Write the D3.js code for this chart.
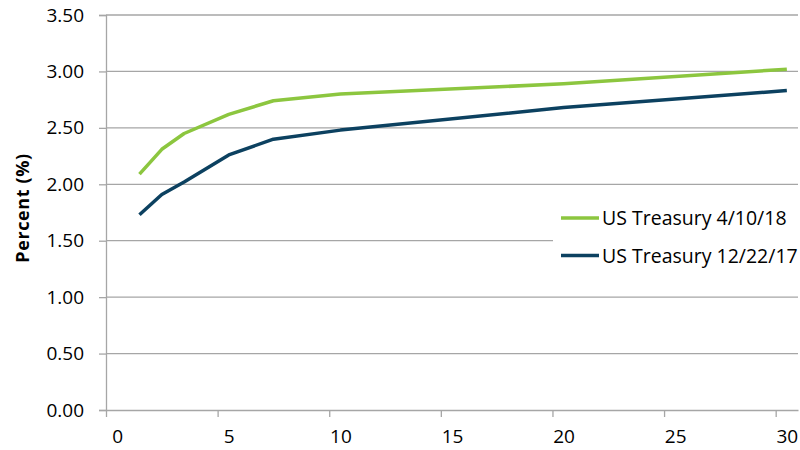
<!DOCTYPE html>
<html>
<head>
<meta charset="utf-8">
<script src="https://cdn.jsdelivr.net/npm/d3@7"></script>
<style>
  html, body { margin: 0; padding: 0; background: #fff; }
  svg { display: block; font-family: "Open Sans", "Noto Sans", sans-serif; }
</style>
</head>
<body>
<svg id="chart" width="800" height="450"></svg>
<script>
// Treasury yield curves by maturity (years)
const maturities = [1, 2, 3, 5, 7, 10, 20, 30];
const yieldsApr18 = [2.09, 2.31, 2.45, 2.62, 2.74, 2.80, 2.89, 3.02];
const yieldsDec17 = [1.73, 1.91, 2.02, 2.26, 2.40, 2.48, 2.68, 2.83];
const seriesNames = ["US Treasury 4/10/18", "US Treasury 12/22/17"];
const xTickValues = [0, 5, 10, 15, 20, 25, 30];
const yTickValues = [0, 0.5, 1, 1.5, 2, 2.5, 3, 3.5];

const colors = ["#8cc63f", "#0c4160"];
const axisColor = "#a6a6a6";
const svg = d3.select("#chart");

const x = d3.scaleLinear().domain([-0.5, 30.5]).range([106, 798]);
const y = d3.scaleLinear().domain([0, 3.5]).range([410, 15]);

// horizontal gridlines
svg.append("g")
  .selectAll("line")
  .data(yTickValues.filter(v => v > 0))
  .join("line")
  .attr("x1", x.range()[0]).attr("x2", x.range()[1])
  .attr("y1", d => y(d)).attr("y2", d => y(d))
  .attr("stroke", axisColor).attr("stroke-width", 1.3);

// y axis
const yAxis = svg.append("g")
  .attr("transform", `translate(${x.range()[0]},0)`)
  .call(d3.axisLeft(y).tickValues(yTickValues).tickFormat(d3.format(".2f")).tickSize(7).tickPadding(15));
yAxis.select(".domain").attr("stroke", axisColor).attr("stroke-width", 1.3);
yAxis.selectAll(".tick line").attr("stroke", axisColor).attr("stroke-width", 1.3);
yAxis.selectAll("text").attr("font-size", 19).attr("fill", "#000")
  .attr("font-family", "Open Sans, sans-serif");

// x axis: tick marks sit half a unit left of each label
const xAxis = svg.append("g")
  .attr("transform", `translate(0,${y(0)})`)
  .call(d3.axisBottom(x).tickValues(xTickValues).tickSize(0).tickPadding(20).tickFormat(d3.format("d")));
xAxis.select(".domain").attr("stroke", axisColor).attr("stroke-width", 1.3);
xAxis.selectAll("text").attr("font-size", 19).attr("fill", "#000")
  .attr("font-family", "Open Sans, sans-serif");
xAxis.selectAll(".tick").append("line")
  .attr("x1", x(-0.5) - x(0)).attr("x2", x(-0.5) - x(0))
  .attr("y1", 0).attr("y2", 7)
  .attr("stroke", axisColor).attr("stroke-width", 1.3);

// y axis title
svg.append("text")
  .attr("transform", `translate(29,208) rotate(-90)`)
  .attr("text-anchor", "middle")
  .attr("font-size", 18).attr("font-weight", "bold")
  .attr("letter-spacing", 0.6)
  .text("Percent (%)");

// curves
const line = d3.line().x(d => x(d[0])).y(d => y(d[1]));
[yieldsApr18, yieldsDec17].forEach((vals, i) => {
  svg.append("path")
    .datum(maturities.map((m, j) => [m, vals[j]]))
    .attr("fill", "none")
    .attr("stroke", colors[i])
    .attr("stroke-width", 3.5)
    .attr("stroke-linejoin", "round")
    .attr("d", line);
});

// legend
const legend = svg.append("g");
legend.append("rect")
  .attr("x", 553).attr("y", 196).attr("width", 247).attr("height", 80)
  .attr("fill", "#fff");
seriesNames.forEach((name, i) => {
  const ly = 218 + i * 37.5;
  legend.append("line")
    .attr("x1", 561).attr("x2", 599).attr("y1", ly).attr("y2", ly)
    .attr("stroke", colors[i]).attr("stroke-width", 3.5);
  legend.append("text")
    .attr("x", 602).attr("y", ly).attr("dy", "0.36em")
    .attr("font-size", 19.5)
    .text(name);
});
</script>
</body>
</html>
